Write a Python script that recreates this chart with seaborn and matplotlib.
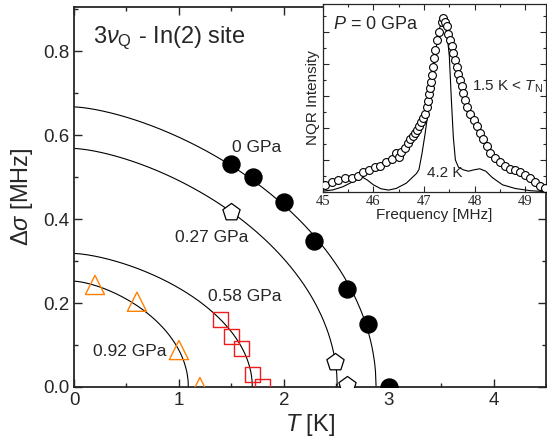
import matplotlib
matplotlib.use("Agg")
import matplotlib.pyplot as plt
from matplotlib.ticker import MultipleLocator
import numpy as np
import seaborn as sns

# main panel: gap vs temperature
t_0gpa = [1.50, 1.71, 2.00, 2.29, 2.60, 2.80, 3.00]
d_0gpa = [0.530, 0.499, 0.441, 0.348, 0.233, 0.149, 0.0]
t_027 = [1.50, 2.49, 2.60]
d_027 = [0.417, 0.059, 0.004]
t_058 = [1.40, 1.50, 1.60, 1.70, 1.80]
d_058 = [0.160, 0.120, 0.092, 0.029, 0.002]
t_092 = [0.20, 0.60, 1.00, 1.20]
d_092 = [0.243, 0.203, 0.088, 0.0]

# fit curves: delta0, T_N
fits = {"0 GPa": (0.667, 2.88), "0.27 GPa": (0.568, 2.51),
        "0.58 GPa": (0.318, 1.70), "0.92 GPa": (0.252, 1.09)}
fit_exp = (1.5, 0.5)

# inset: NQR spectra at P = 0
f_15k = [45.05, 45.18, 45.31, 45.44, 45.57, 45.70, 45.80, 45.92, 46.03, 46.14,
         46.25, 46.36, 46.45, 46.50, 46.55, 46.62, 46.68, 46.72, 46.78, 46.82,
         46.86, 46.90, 46.94, 46.98, 47.02, 47.05, 47.08, 47.10, 47.12, 47.14,
         47.16, 47.18, 47.20, 47.22, 47.25, 47.30, 47.35, 47.38, 47.42, 47.45,
         47.48, 47.52, 47.55, 47.58, 47.61, 47.65, 47.68, 47.71, 47.75, 47.78,
         47.81, 47.85, 47.91, 47.98, 48.04, 48.11, 48.17, 48.24, 48.31, 48.41,
         48.50, 48.60, 48.70, 48.80, 48.90, 49.00, 49.10, 49.20, 49.29, 49.39]
i_15k = [0.045, 0.065, 0.078, 0.088, 0.085, 0.100, 0.128, 0.135, 0.155, 0.165,
         0.185, 0.205, 0.245, 0.220, 0.250, 0.275, 0.305, 0.330, 0.350, 0.370,
         0.390, 0.410, 0.435, 0.460, 0.490, 0.530, 0.570, 0.610, 0.650, 0.690,
         0.730, 0.780, 0.840, 0.890, 0.950, 1.000, 1.060, 1.085, 1.065, 1.040,
         0.990, 0.950, 0.910, 0.870, 0.825, 0.780, 0.740, 0.700, 0.660, 0.620,
         0.575, 0.530, 0.490, 0.450, 0.410, 0.370, 0.330, 0.290, 0.245, 0.210,
         0.185, 0.160, 0.145, 0.135, 0.125, 0.105, 0.085, 0.060, 0.040, 0.022]
f_42k = [45.00, 45.20, 45.40, 45.60, 45.77, 45.88, 46.00, 46.15, 46.30, 46.45,
         46.65, 46.85, 46.90, 46.96, 47.02, 47.08, 47.15, 47.22, 47.30, 47.38,
         47.45, 47.50, 47.54, 47.58, 47.62, 47.68, 47.78, 47.88, 47.98, 48.10,
         48.22, 48.35, 48.55, 48.80, 49.10, 49.40]
i_42k = [0.005, 0.013, 0.033, 0.065, 0.095, 0.075, 0.045, 0.020, 0.012, 0.022,
         0.055, 0.115, 0.140, 0.240, 0.360, 0.500, 0.680, 0.860, 1.020, 1.075,
         1.000, 0.850, 0.580, 0.340, 0.200, 0.155, 0.138, 0.130, 0.138, 0.145,
         0.130, 0.090, 0.045, 0.022, 0.008, 0.002]

sns.set_style("ticks")
plt.rcParams["font.family"] = ["Liberation Sans", "DejaVu Sans"]
plt.rcParams["mathtext.fontset"] = "custom"
plt.rcParams["mathtext.rm"] = "Liberation Sans"
plt.rcParams["mathtext.it"] = "Liberation Sans:italic"

fig = plt.figure(figsize=(5.47, 4.44), dpi=100)
ax = fig.add_axes([0.1353, 0.1284, 0.8629, 0.8559])

for name, (d0, tn) in fits.items():
    tt = np.linspace(0, tn, 500)
    dd = d0 * np.clip(1 - (tt / tn) ** fit_exp[0], 0, None) ** fit_exp[1]
    sns.lineplot(x=tt, y=dd, ax=ax, color="black", lw=0.8, sort=False, zorder=2)

sns.scatterplot(x=t_0gpa, y=d_0gpa, ax=ax, marker="o", s=150, color="black",
                edgecolor="black", zorder=3)
sns.scatterplot(x=t_027, y=d_027, ax=ax, marker="p", s=170, facecolor="white",
                edgecolor="black", linewidth=0.9, zorder=3)
sns.scatterplot(x=t_058, y=d_058, ax=ax, marker="s", s=120, facecolor="none",
                edgecolor="#ee1c1c", linewidth=1.0, zorder=3)
sns.scatterplot(x=t_092, y=d_092, ax=ax, marker="^", s=190, facecolor="none",
                edgecolor="#ff8000", linewidth=1.0, zorder=3)

ax.set_xlim(0, 4.5)
ax.set_ylim(0, 0.905)
ax.xaxis.set_major_locator(MultipleLocator(1))
ax.xaxis.set_minor_locator(MultipleLocator(0.5))
ax.yaxis.set_major_locator(MultipleLocator(0.2))
ax.yaxis.set_minor_locator(MultipleLocator(0.1))
ax.yaxis.set_major_formatter(matplotlib.ticker.FormatStrFormatter("%.1f"))
ax.tick_params(which="both", direction="in", top=True, right=True, width=1.0,
               labelsize=13.5)
ax.tick_params(which="major", length=6)
ax.tick_params(which="minor", length=3)
for sp in ax.spines.values():
    sp.set_linewidth(1.3)
ax.set_xlabel("$T$ [K]", fontsize=17, labelpad=2)
ax.set_ylabel(r"$\Delta\sigma$ [MHz]", fontsize=17, labelpad=6)

ax.text(0.18, 0.831, r"3$\nu_{\rm Q}$ - In(2) site", fontsize=17, va="center")
ax.text(1.51, 0.571, "0 GPa", fontsize=12.5, va="center")
ax.text(0.96, 0.355, "0.27 GPa", fontsize=12.5, va="center")
ax.text(1.28, 0.215, "0.58 GPa", fontsize=12.5, va="center")
ax.text(0.18, 0.084, "0.92 GPa", fontsize=12.5, va="center")

# inset
ins = fig.add_axes([0.590, 0.5676, 0.4082, 0.4234])
ins.set_facecolor("white")
sns.lineplot(x=f_42k, y=i_42k, ax=ins, color="black", lw=0.8, sort=False, zorder=2)
sns.scatterplot(x=f_15k, y=i_15k, ax=ins, marker="o", s=32, facecolor="white",
                edgecolor="black", linewidth=0.8, zorder=3)
ins.set_xlim(45, 49.41)
ins.set_ylim(0, 1.175)
ins.xaxis.set_major_locator(MultipleLocator(1))
ins.xaxis.set_minor_locator(MultipleLocator(0.5))
ins.yaxis.set_major_locator(MultipleLocator(0.2))
ins.yaxis.set_minor_locator(MultipleLocator(0.1))
ins.tick_params(which="both", direction="in", top=True, right=True, width=0.8,
                labelleft=False, pad=2, labelsize=10.5,
                labelfontfamily="Liberation Serif")
ins.tick_params(which="major", length=4)
ins.tick_params(which="minor", length=2)
for sp in ins.spines.values():
    sp.set_linewidth(0.9)
ins.set_xlabel("Frequency [MHz]", fontsize=11, labelpad=0)
ins.set_ylabel("NQR Intensity", fontsize=11, labelpad=2)
ins.text(45.21, 1.044, "$P$ = 0 GPa", fontsize=13, va="center")
ins.text(47.94, 0.656, "1.5 K < $T_{\\rm N}$", fontsize=11, va="center")
ins.text(47.05, 0.119, "4.2 K", fontsize=11, va="center")

fig.savefig("out.png", dpi=100)
